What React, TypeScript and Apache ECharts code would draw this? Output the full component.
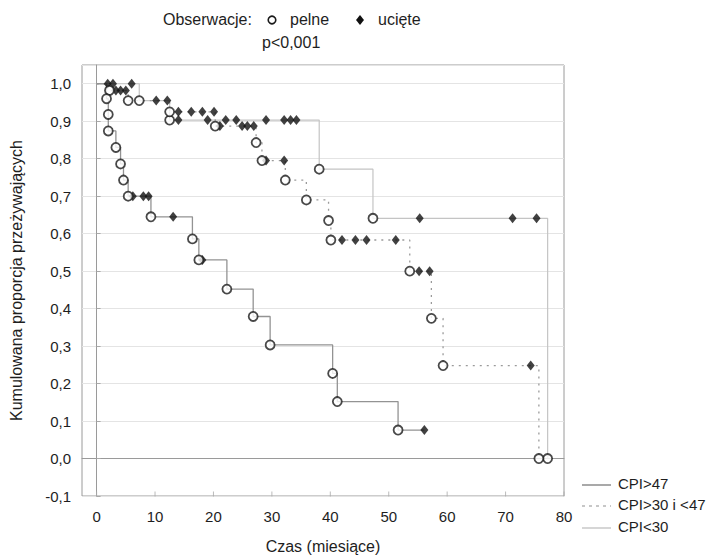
import React, { useEffect, useRef } from "react";
import * as echarts from "echarts";

// Axis ticks
const xTickValues = [0, 10, 20, 30, 40, 50, 60, 70, 80];

// CPI>47 — events (pelne) and censored (ucięte) observations
const cpi47EventT = [1.7, 2.0, 2.0, 3.3, 4.1, 4.6, 5.4, 9.3, 16.4, 17.5, 22.3, 26.8, 29.7, 40.4, 41.2, 51.6];
const cpi47EventS = [0.96, 0.918, 0.874, 0.83, 0.786, 0.743, 0.7, 0.645, 0.586, 0.53, 0.452, 0.379, 0.303, 0.227, 0.152, 0.076];
const cpi47CensT = [6.2, 8.0, 8.9, 13.1, 18.1, 56.1];
const cpi47CensS = [0.7, 0.7, 0.7, 0.645, 0.53, 0.076];

// CPI>30 i <47
const cpiMidEventT = [2.2, 5.4, 12.5, 20.3, 27.3, 28.3, 32.3, 35.9, 39.7, 40.1, 53.6, 57.3, 59.3, 75.7];
const cpiMidEventS = [0.982, 0.955, 0.925, 0.887, 0.843, 0.795, 0.743, 0.69, 0.635, 0.583, 0.5, 0.374, 0.248, 0.0];
const cpiMidCensT = [3.3, 4.1, 5.0, 14.0, 16.2, 18.1, 20.1, 21.1, 24.9, 25.8, 26.9, 29.0, 32.1, 42.0, 44.3, 46.2, 51.2, 55.2, 57.0, 74.3];
const cpiMidCensS = [0.982, 0.982, 0.982, 0.925, 0.925, 0.925, 0.925, 0.887, 0.887, 0.887, 0.887, 0.795, 0.795, 0.583, 0.583, 0.583, 0.583, 0.5, 0.5, 0.248];

// CPI<30
const cpi30EventT = [7.3, 12.5, 38.1, 47.3, 77.2];
const cpi30EventS = [0.955, 0.903, 0.772, 0.641, 0.0];
const cpi30CensT = [1.9, 2.8, 6.0, 10.2, 12.1, 14.0, 19.0, 22.1, 23.9, 29.0, 32.1, 33.2, 34.2, 55.3, 71.2, 75.3];
const cpi30CensS = [1.0, 1.0, 1.0, 0.955, 0.955, 0.903, 0.903, 0.903, 0.903, 0.903, 0.903, 0.903, 0.903, 0.641, 0.641, 0.641];

const FONT = "'Liberation Sans', Arial, sans-serif";
const TEXT = "#1e1e1e";

function stepLine(evT: number[], evS: number[], cT: number[]) {
  const pts: number[][] = [[0, 1]];
  evT.forEach((t, i) => pts.push([t, evS[i]]));
  const lastEv = evT[evT.length - 1];
  const lastC = Math.max(...cT);
  if (lastC > lastEv) pts.push([lastC, evS[evS.length - 1]]);
  return pts;
}

function pairs(t: number[], s: number[]) {
  return t.map((v, i) => [v, s[i]]);
}

const groups = [
  { name: "CPI<30", evT: cpi30EventT, evS: cpi30EventS, cT: cpi30CensT, cS: cpi30CensS, color: "#c4c4c4", type: "solid" as any, width: 1.2 },
  { name: "CPI>30 i <47", evT: cpiMidEventT, evS: cpiMidEventS, cT: cpiMidCensT, cS: cpiMidCensS, color: "#9a9a9a", type: [2, 5] as any, width: 1.3 },
  { name: "CPI>47", evT: cpi47EventT, evS: cpi47EventS, cT: cpi47CensT, cS: cpi47CensS, color: "#939393", type: "solid" as any, width: 1.3 },
];

export default function App() {
  const ref = useRef<HTMLDivElement>(null);

  useEffect(() => {
    if (!ref.current) return;
    const chart = echarts.init(ref.current, null, { renderer: "svg" });

    const series: any[] = [];
    groups.forEach((g) => {
      series.push({
        type: "line",
        name: g.name,
        step: "end",
        data: stepLine(g.evT, g.evS, g.cT),
        showSymbol: false,
        symbol: "none",
        lineStyle: { color: g.color, width: g.width, type: g.type },
        z: 2,
        silent: true,
      });
    });
    groups.forEach((g) => {
      series.push({
        type: "scatter",
        name: g.name + " ucięte",
        data: pairs(g.cT, g.cS),
        symbol: "diamond",
        symbolSize: [8, 10],
        itemStyle: { color: "#111" },
        z: 4,
        silent: true,
      });
    });
    groups.forEach((g) => {
      series.push({
        type: "scatter",
        name: g.name + " pelne",
        data: pairs(g.evT, g.evS),
        symbol: "circle",
        symbolSize: 9,
        itemStyle: { color: "#fff", borderColor: "#1a1a1a", borderWidth: 1.8 },
        z: 5,
        silent: true,
      });
    });
    // small inward ticks on the bottom axis
    series.push({
      type: "scatter",
      data: xTickValues.map((t) => [t, -0.1]),
      symbol: "rect",
      symbolSize: [1, 5],
      symbolOffset: [0, -2],
      itemStyle: { color: "#aaa" },
      z: 1,
      silent: true,
    });

    const legendY = [485, 506, 528];
    const legendItems = [
      { label: "CPI>47", color: "#8c8c8c", type: "solid" },
      { label: "CPI>30 i <47", color: "#b5b5b5", type: [3, 4] },
      { label: "CPI<30", color: "#c8c8c8", type: "solid" },
    ];

    const topFont = `16px ${FONT}`;
    const graphic: any[] = [
      { type: "text", left: 163, top: 11, style: { text: "Obserwacje:", font: topFont, fill: TEXT } },
      { type: "circle", shape: { cx: 272, cy: 20, r: 3.8 }, style: { fill: "#fff", stroke: "#1a1a1a", lineWidth: 1.6 } },
      { type: "text", left: 290, top: 11, style: { text: "pelne", font: topFont, fill: TEXT } },
      { type: "polygon", shape: { points: [[360, 15], [364, 20], [360, 25], [356, 20]] }, style: { fill: "#111" } },
      { type: "text", left: 378, top: 11, style: { text: "ucięte", font: topFont, fill: TEXT } },
      { type: "text", left: 262, top: 34, style: { text: "p<0,001", font: topFont, fill: TEXT } },
    ];
    legendItems.forEach((it, i) => {
      graphic.push({
        type: "line",
        shape: { x1: 582, y1: legendY[i], x2: 611, y2: legendY[i] },
        style: { stroke: it.color, lineWidth: 1.5, lineDash: it.type === "solid" ? null : it.type },
      });
      graphic.push({
        type: "text",
        left: 618,
        top: legendY[i] - 9,
        style: { text: it.label, font: `15px ${FONT}`, fill: TEXT },
      });
    });

    chart.setOption({
      animation: false,
      backgroundColor: "#fff",
      grid: { left: 82, right: 149, top: 65, bottom: 60, containLabel: false, show: true, borderColor: "#9a9a9a", borderWidth: 1, backgroundColor: "transparent" },
      xAxis: {
        type: "value",
        min: -2.5,
        max: 80,
        interval: 2.5,
        name: "Czas (miesiące)",
        nameLocation: "middle",
        nameGap: 42,
        nameTextStyle: { fontFamily: FONT, fontSize: 16, color: TEXT },
        axisLine: { show: true, lineStyle: { color: "#9a9a9a", width: 1 } },
        axisTick: { show: false },
        splitLine: { show: false },
        axisLabel: {
          fontFamily: FONT,
          fontSize: 15,
          color: TEXT,
          margin: 13,
          showMinLabel: false,
          formatter: (v: number) => (Math.abs(v % 10) < 1e-6 && v >= 0 ? String(Math.round(v)) : ""),
        },
      },
      yAxis: {
        type: "value",
        min: -0.1,
        max: 1.05,
        interval: 0.1,
        name: "Kumulowana proporcja przeżywających",
        nameLocation: "middle",
        nameGap: 58,
        nameTextStyle: { fontFamily: FONT, fontSize: 16, color: TEXT },
        axisLine: { show: true, lineStyle: { color: "#9a9a9a", width: 1 } },
        axisTick: { show: true, inside: true, length: 4, lineStyle: { color: "#aaa" } },
        splitLine: { show: true, lineStyle: { color: "#e4e4e4", width: 1 } },
        axisLabel: {
          fontFamily: FONT,
          fontSize: 15,
          color: TEXT,
          margin: 11,
          showMaxLabel: false,
          formatter: (v: number) => (Math.abs(v) < 1e-9 ? "0,0" : v.toFixed(1).replace(".", ",")),
        },
      },
      graphic,
      series,
    });

    return () => chart.dispose();
  }, []);

  return <div ref={ref} style={{ position: "fixed", left: 0, top: 0, width: 713, height: 559 }} />;
}
